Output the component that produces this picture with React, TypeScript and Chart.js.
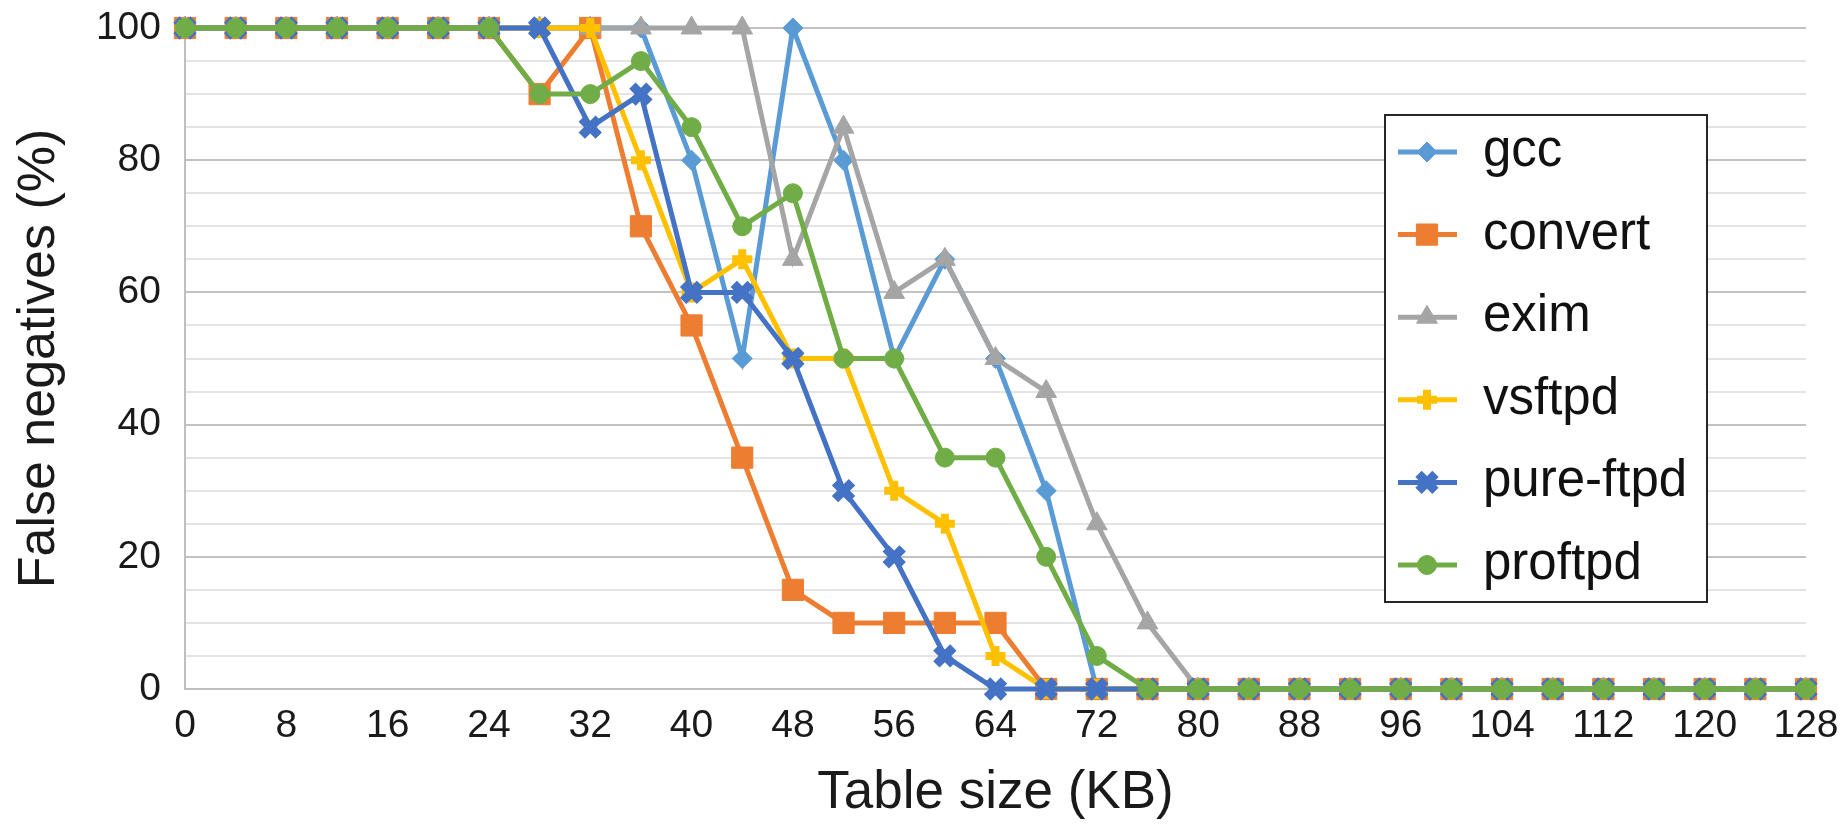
import React, { useEffect, useRef } from 'react';
import { Chart, registerables } from 'chart.js';

Chart.register(...registerables);

const tableSizes = [0, 4, 8, 12, 16, 20, 24, 28, 32, 36, 40, 44, 48, 52, 56, 60, 64, 68, 72, 76, 80, 84, 88, 92, 96, 100, 104, 108, 112, 116, 120, 124, 128];

const gcc = [100, 100, 100, 100, 100, 100, 100, 100, 100, 100, 80, 50, 100, 80, 50, 65, 50, 30, 0, 0, 0, 0, 0, 0, 0, 0, 0, 0, 0, 0, 0, 0, 0];
const convert = [100, 100, 100, 100, 100, 100, 100, 90, 100, 70, 55, 35, 15, 10, 10, 10, 10, 0, 0, 0, 0, 0, 0, 0, 0, 0, 0, 0, 0, 0, 0, 0, 0];
const exim = [100, 100, 100, 100, 100, 100, 100, 100, 100, 100, 100, 100, 65, 85, 60, 65, 50, 45, 25, 10, 0, 0, 0, 0, 0, 0, 0, 0, 0, 0, 0, 0, 0];
const vsftpd = [100, 100, 100, 100, 100, 100, 100, 100, 100, 80, 60, 65, 50, 50, 30, 25, 5, 0, 0, 0, 0, 0, 0, 0, 0, 0, 0, 0, 0, 0, 0, 0, 0];
const pureFtpd = [100, 100, 100, 100, 100, 100, 100, 100, 85, 90, 60, 60, 50, 30, 20, 5, 0, 0, 0, 0, 0, 0, 0, 0, 0, 0, 0, 0, 0, 0, 0, 0, 0];
const proftpd = [100, 100, 100, 100, 100, 100, 100, 90, 90, 95, 85, 70, 75, 50, 50, 35, 35, 20, 5, 0, 0, 0, 0, 0, 0, 0, 0, 0, 0, 0, 0, 0, 0];

const seriesNames = ['gcc', 'convert', 'exim', 'vsftpd', 'pure-ftpd', 'proftpd'];
const seriesValues = [gcc, convert, exim, vsftpd, pureFtpd, proftpd];
const seriesColors = ['#5B9BD5', '#ED7D31', '#A5A5A5', '#FFC000', '#4472C4', '#70AD47'];
const seriesMarkers = ['rectRot', 'rect', 'triangle', 'cross', 'crossRot', 'circle'];
const markerRadius = [10, 15, 12, 10, 12, 9.5];
const markerBorder = [1, 1, 1, 8, 9, 1];

const xTickStep = 8;
const yMinorStep = 5;
const yMajorStep = 20;

const FONT = '"Liberation Sans", Arial, sans-serif';

function drawMarker(ctx: CanvasRenderingContext2D, style: string, x: number, y: number, r: number, color: string, bw: number) {
  ctx.save();
  ctx.fillStyle = color;
  ctx.strokeStyle = color;
  ctx.lineWidth = bw;
  ctx.beginPath();
  if (style === 'circle') {
    ctx.arc(x, y, r, 0, Math.PI * 2);
    ctx.fill();
    ctx.stroke();
  } else if (style === 'rect') {
    const s = Math.SQRT1_2 * r;
    ctx.rect(x - s, y - s, 2 * s, 2 * s);
    ctx.fill();
    ctx.stroke();
  } else if (style === 'rectRot') {
    ctx.moveTo(x, y - r);
    ctx.lineTo(x + r, y);
    ctx.lineTo(x, y + r);
    ctx.lineTo(x - r, y);
    ctx.closePath();
    ctx.fill();
    ctx.stroke();
  } else if (style === 'triangle') {
    const a = (2 * Math.PI) / 3;
    ctx.moveTo(x, y - r);
    ctx.lineTo(x + Math.sin(a) * r, y - Math.cos(a) * r);
    ctx.lineTo(x + Math.sin(2 * a) * r, y - Math.cos(2 * a) * r);
    ctx.closePath();
    ctx.fill();
    ctx.stroke();
  } else if (style === 'cross') {
    ctx.moveTo(x, y - r);
    ctx.lineTo(x, y + r);
    ctx.moveTo(x - r, y);
    ctx.lineTo(x + r, y);
    ctx.stroke();
  } else if (style === 'crossRot') {
    const d = Math.SQRT1_2 * r;
    ctx.moveTo(x - d, y - d);
    ctx.lineTo(x + d, y + d);
    ctx.moveTo(x + d, y - d);
    ctx.lineTo(x - d, y + d);
    ctx.stroke();
  }
  ctx.restore();
}

const boxLegend = {
  id: 'boxLegend',
  afterDraw(chart: any) {
    const ctx: CanvasRenderingContext2D = chart.ctx;
    const bx = 1385, by = 115, bw = 322, bh = 487;
    ctx.save();
    ctx.fillStyle = '#ffffff';
    ctx.fillRect(bx, by, bw, bh);
    ctx.strokeStyle = '#262626';
    ctx.lineWidth = 2;
    ctx.strokeRect(bx, by, bw, bh);
    chart.data.datasets.forEach((ds: any, i: number) => {
      const y = 152 + i * 82.6;
      ctx.strokeStyle = seriesColors[i];
      ctx.lineWidth = 5;
      ctx.beginPath();
      ctx.moveTo(1398, y);
      ctx.lineTo(1457, y);
      ctx.stroke();
      drawMarker(ctx, seriesMarkers[i], 1427, y, markerRadius[i], seriesColors[i], markerBorder[i]);
      ctx.fillStyle = '#111111';
      ctx.font = `51px ${FONT}`;
      ctx.textAlign = 'left';
      ctx.textBaseline = 'alphabetic';
      ctx.fillText(ds.label, 1483, y + 14);
    });
    ctx.restore();
  },
};

export default function App() {
  const canvasRef = useRef<HTMLCanvasElement | null>(null);

  useEffect(() => {
    if (!canvasRef.current) return;
    const datasets = seriesNames.map((name, i) => ({
      label: name,
      data: tableSizes.map((x, j) => ({ x, y: seriesValues[i][j] })),
      borderColor: seriesColors[i],
      backgroundColor: seriesColors[i],
      borderWidth: 5,
      pointStyle: seriesMarkers[i] as any,
      pointRadius: markerRadius[i],
      pointBorderWidth: markerBorder[i],
      pointBackgroundColor: seriesColors[i],
      pointBorderColor: seriesColors[i],
      tension: 0,
      clip: false as any,
      order: seriesNames.length - i,
    }));

    const chart = new Chart(canvasRef.current, {
      type: 'line',
      data: { datasets },
      plugins: [boxLegend],
      options: {
        animation: false,
        responsive: false,
        devicePixelRatio: 1,
        layout: { padding: { left: 0, top: 28, right: 38, bottom: 0 } },
        plugins: {
          legend: { display: false },
          tooltip: { enabled: false },
        },
        scales: {
          x: {
            type: 'linear',
            min: 0,
            max: 128,
            afterFit: (s: any) => {
              s.height = 136;
              s.paddingLeft = 0;
              s.paddingRight = 0;
            },
            ticks: {
              stepSize: xTickStep,
              autoSkip: false,
              maxRotation: 0,
              padding: 14,
              color: '#1a1a1a',
              font: { family: FONT, size: 39, lineHeight: 1.2 },
            },
            grid: { display: false, drawTicks: false },
            border: { display: true, color: '#bfbfbf', width: 2 },
            title: {
              display: true,
              text: 'Table size (KB)',
              color: '#1a1a1a',
              font: { family: FONT, size: 53, lineHeight: 1 },
              padding: { top: 0, bottom: 5 },
            },
          },
          y: {
            min: 0,
            max: 100,
            afterFit: (s: any) => {
              s.width = 185;
              s.paddingTop = 0;
              s.paddingBottom = 0;
            },
            ticks: {
              stepSize: yMinorStep,
              autoSkip: false,
              padding: 24,
              color: '#1a1a1a',
              font: { family: FONT, size: 39, lineHeight: 1.2 },
              callback: (v: any) => (Number(v) % yMajorStep === 0 ? String(v) : ''),
            },
            grid: {
              drawTicks: false,
              lineWidth: 2,
              color: (c: any) => (c.tick && c.tick.value % yMajorStep === 0 ? '#c2c2c2' : '#e4e4e4'),
            },
            border: { display: true, color: '#bfbfbf', width: 2 },
            title: {
              display: true,
              text: 'False negatives (%)',
              color: '#1a1a1a',
              font: { family: FONT, size: 52, lineHeight: 1 },
              padding: { top: 14, bottom: 0 },
            },
          },
        },
      },
    });
    return () => chart.destroy();
  }, []);

  return (
    <div style={{ position: 'absolute', left: 0, top: 0, width: 1844, height: 825, background: '#fff' }}>
      <canvas ref={canvasRef} width={1844} height={825} style={{ display: 'block' }} />
    </div>
  );
}
